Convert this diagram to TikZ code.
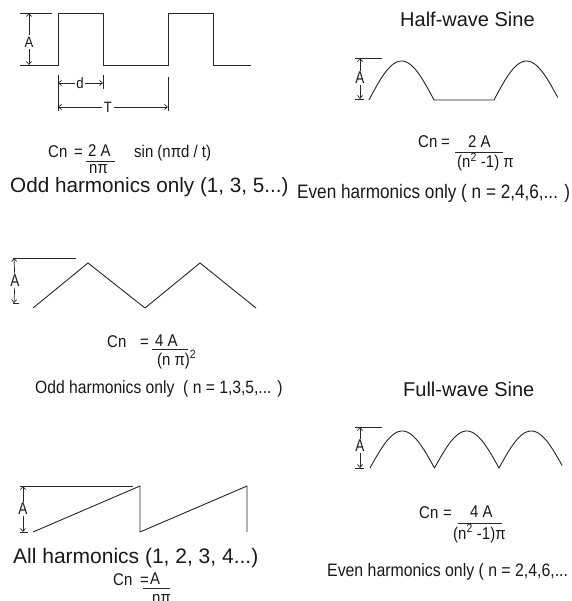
\documentclass[tikz,border=0pt]{standalone}
\usepackage{fontspec}
\setmainfont{Liberation Sans}
\newfontfamily\narrowfont{Liberation Sans}[FakeStretch=0.88]
\newfontfamily\tallfont{Liberation Sans}[FakeStretch=0.8]
\usetikzlibrary{arrows.meta}
\begin{document}
\begin{tikzpicture}[x=1pt,y=-1pt,
  wave/.style={line width=0.9pt, black!85, line join=round},
  dim/.style={line width=0.7pt, black!85},
  arr/.style={dim, -{Straight Barb[length=3pt,width=5pt]}},
  lab/.style={inner sep=0pt, text=black!90},
  big/.style={lab, font=\fontsize{20.7}{22}\selectfont},
  ttl/.style={lab, font=\fontsize{20}{22}\selectfont},
  note/.style={lab, font=\narrowfont\fontsize{19.5}{21}\selectfont},
  fml/.style={lab, font=\narrowfont\fontsize{17}{19}\selectfont},
  alab/.style={lab, inner sep=1.5pt, font=\narrowfont\fontsize{15}{16}\selectfont},
  tlab/.style={lab, inner sep=1pt, font=\tallfont\fontsize{17}{18}\selectfont},
]
\useasboundingbox[fill=white] (0,0) rectangle (571,601);

% ---------- square wave ----------
\draw[wave] (20,65) -- (58,65) -- (58,13) -- (103,13) -- (103,65) -- (168,65) -- (168,13) -- (213,13) -- (213,65) -- (251,65);
\draw[dim] (20,13) -- (52,13);
\node[alab] (sqA) at (29,42) {A};
\coordinate (sqAt) at (29,13);
\coordinate (sqAb) at (29,65);
\draw[arr] (sqA) -- (sqAt);
\draw[arr] (sqA) -- (sqAb);
\draw[dim] (58,75) -- (58,111);
\draw[dim] (103,75) -- (103,89);
\draw[dim] (168,77) -- (168,111);
\node[alab] (sqd) at (80,83) {d};
\coordinate (sqdl) at (58,83);
\coordinate (sqdr) at (103,83);
\draw[arr] (sqd) -- (sqdl);
\draw[arr] (sqd) -- (sqdr);
\node[alab] (sqT) at (108,107) {T};
\coordinate (sqTl) at (58,107);
\coordinate (sqTr) at (168,107);
\draw[arr] (sqT) -- (sqTl);
\draw[arr] (sqT) -- (sqTr);
\node[fml, anchor=base west] (sqCn) at (48,158) {Cn};
\node[fml, anchor=base west] (sqEq) at (74,158) {=};
\node[fml, anchor=base west] (sqNum) at (88,157) {2 A};
\draw[dim] (86,161) -- (115,161);
\node[fml, anchor=base west] (sqDen) at (89,174) {nπ};
\node[fml, anchor=base west] (sqSin) at (134,158) {sin (nπd / t)};
\node[big, anchor=base west] (sqNote) at (10,193) {Odd harmonics only (1, 3, 5...)};

% ---------- half-wave sine ----------
\node[ttl, anchor=base west] (hwT) at (400,27) {Half-wave Sine};
\draw[wave] plot[domain=0:1, samples=40] ({369+65*\x},{100-39*sin(180*\x)})
  -- (494,100)
  -- plot[domain=0:0.98, samples=40] ({494+65*\x},{100-39*sin(180*\x)});
\draw[dim] (355,58) -- (382,58);
\draw[dim] (355,99) -- (364,99);
\node[tlab] (hwA) at (360,78) {A};
\coordinate (hwAt) at (360,58);
\coordinate (hwAb) at (360,99);
\draw[arr] (hwA) -- (hwAt);
\draw[arr] (hwA) -- (hwAb);
\node[fml, anchor=base west] (hwCn) at (418,148) {Cn};
\node[fml, anchor=base west] (hwEq) at (441,148) {=};
\node[fml, anchor=base west] (hwNum) at (468,148) {2 A};
\draw[dim] (455,152) -- (503,152);
\node[fml, anchor=base west] (hwDen) at (457,168) {(n\textsuperscript{2} -1) π};
\node[note, anchor=base west] (hwNote) at (297,199) {Even harmonics only ( n = 2,4,6,... )};

% ---------- triangle ----------
\draw[wave] (33,308) -- (88,263) -- (145,308) -- (200,263) -- (256,308);
\draw[dim] (13,258) -- (76,258);
\draw[dim] (13,303) -- (19,303);
\node[tlab] (trA) at (15,281) {A};
\coordinate (trAt) at (14,258);
\coordinate (trAb) at (14,303);
\draw[arr] (trA) -- (trAt);
\draw[arr] (trA) -- (trAb);
\node[fml, anchor=base west] (trCn) at (107,347) {Cn};
\node[fml, anchor=base west] (trEq) at (140,347) {=};
\node[fml, anchor=base west] (trNum) at (155,346) {4 A};
\draw[dim] (152,349) -- (188,349);
\node[fml, anchor=base west] (trDen) at (157,365) {(n π)\textsuperscript{2}};
\node[note, font=\narrowfont\fontsize{17.8}{20}\selectfont, anchor=base west] (trNote) at (35,393) {Odd harmonics only\ \ ( n = 1,3,5,... )};

% ---------- full-wave sine ----------
\node[ttl, anchor=base west] (fwT) at (403,396) {Full-wave Sine};
\draw[wave] plot[domain=0:1, samples=40] ({370+64.5*\x},{468-37*sin(180*\x)})
  -- plot[domain=0:1, samples=40] ({434.5+64.5*\x},{468-37*sin(180*\x)})
  -- plot[domain=0:0.98, samples=40] ({499+64.5*\x},{468-37*sin(180*\x)});
\draw[dim] (355,427) -- (382,427);
\draw[dim] (355,468) -- (364,468);
\node[tlab] (fwA) at (360,446) {A};
\coordinate (fwAt) at (360,427);
\coordinate (fwAb) at (360,468);
\draw[arr] (fwA) -- (fwAt);
\draw[arr] (fwA) -- (fwAb);
\node[fml, anchor=base west] (fwCn) at (419,518) {Cn};
\node[fml, anchor=base west] (fwEq) at (443,518) {=};
\node[fml, anchor=base west] (fwNum) at (470,517) {4 A};
\draw[dim] (458,523) -- (502,523);
\node[fml, anchor=base west] (fwDen) at (453,539) {(n\textsuperscript{2} -1)π};
\node[note, font=\narrowfont\fontsize{18}{20}\selectfont, anchor=base west] (fwNote) at (327,576) {Even harmonics only ( n = 2,4,6,...};

% ---------- sawtooth ----------
\draw[wave] (33,532) -- (140,486) -- (140,532) -- (247,486) -- (247,532);
\draw[dim] (20,486) -- (133,486);
\draw[dim] (20,532) -- (28,532);
\node[tlab] (swA) at (23,509) {A};
\coordinate (swAt) at (23,486);
\coordinate (swAb) at (23,532);
\draw[arr] (swA) -- (swAt);
\draw[arr] (swA) -- (swAb);
\node[big, font=\fontsize{21}{22}\selectfont, anchor=base west] (swNote) at (13,563) {All harmonics (1, 2, 3, 4...)};
\node[fml, anchor=base west] (swCn) at (113,585) {Cn};
\node[fml, anchor=base west] (swEq) at (140,585) {=};
\node[fml, anchor=base west] (swNum) at (150,584) {A};
\draw[dim] (143,588) -- (170,588);
\node[fml, anchor=base west] (swDen) at (152,603) {nπ};
\end{tikzpicture}
\end{document}
